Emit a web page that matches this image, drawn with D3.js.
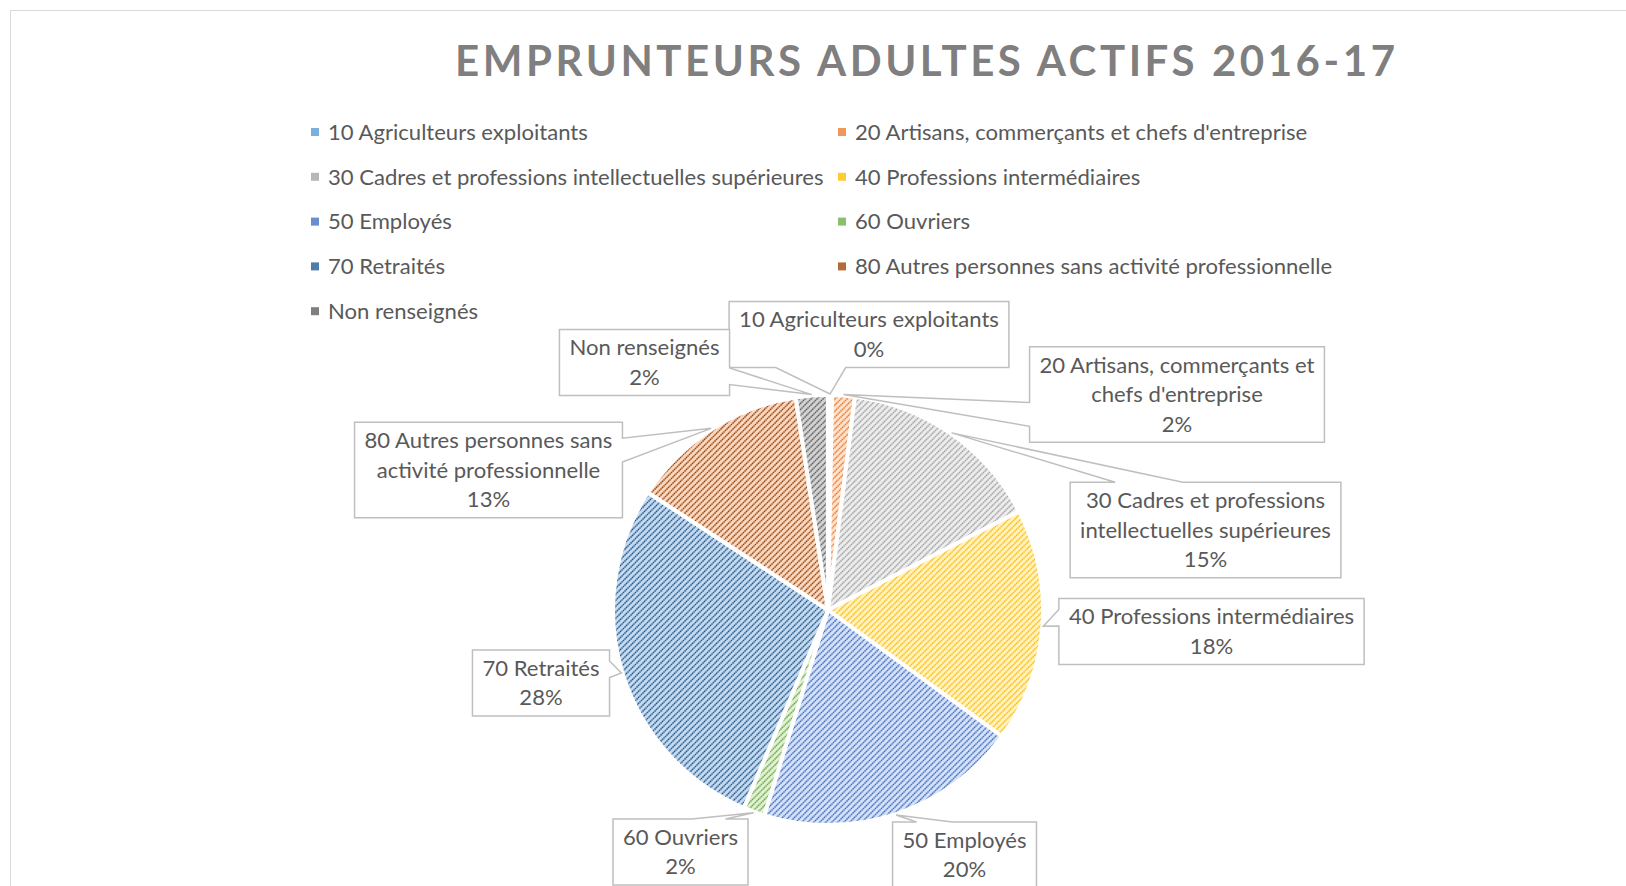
<!DOCTYPE html>
<html>
<head>
<meta charset="utf-8">
<script src="https://cdn.jsdelivr.net/npm/d3@7"></script>
<style>
  body { margin: 0; background: #fff; }
  svg { display: block; }
  text { font-family: Lato, "Open Sans", sans-serif; }
</style>
</head>
<body>
<svg></svg>
<script>

// data (percent of borrowers)
var title = 'EMPRUNTEURS ADULTES ACTIFS 2016-17'
var categories = [
  '10 Agriculteurs exploitants',
  '20 Artisans, commerçants et chefs d\'entreprise',
  '30 Cadres et professions intellectuelles supérieures',
  '40 Professions intermédiaires',
  '50 Employés',
  '60 Ouvriers',
  '70 Retraités',
  '80 Autres personnes sans activité professionnelle',
  'Non renseignés'
]
var values = [0.3, 1.7, 15.4, 17.6, 19.8, 1.6, 27.8, 13.4, 2.4]

// stripe colour and background tint of each slice
var colors = ['#5b9bd5', '#ed7d31', '#a5a5a5', '#ffc000', '#4472c4', '#70ad47', '#255e91', '#9e480e', '#636363']
var tints = ['#dcebf8', '#fbe3d2', '#ececec', '#fff1c8', '#d6e1f5', '#e0efd6', '#c6d9ee', '#f8d8c2', '#d2d2d2']

// where excel put each data label box (centre) and its wrap width
var labelLayout = [
  {x: 869, y: 334.5, wrap: 300},
  {x: 1177, y: 394.5, wrap: 290},
  {x: 1205.5, y: 530, wrap: 268},
  {x: 1211.5, y: 631.5, wrap: 320},
  {x: 964.5, y: 855, wrap: 200},
  {x: 680.5, y: 852, wrap: 200},
  {x: 541, y: 683, wrap: 200},
  {x: 488.5, y: 470, wrap: 262},
  {x: 644.5, y: 362.5, wrap: 200}
]

var width = 1626,
    height = 886
var cx = 828, cy = 610, radius = 215

var svg = d3.select('svg')
            .attr('width', width)
            .attr('height', height)

// chart area frame
svg.append('rect')
  .attr('x', 10.5).attr('y', 10.5)
  .attr('width', 1700).attr('height', 1000)
  .attr('fill', '#fff')
  .attr('stroke', '#d9d9d9')
  .attr('stroke-width', 1)

// striped fills, one per slice
var defs = svg.append('defs')
colors.forEach(function(c, i) {
  var p = defs.append('pattern')
    .attr('id', 'pat' + i)
    .attr('width', 6).attr('height', 6)
    .attr('patternUnits', 'userSpaceOnUse')
  p.append('rect').attr('width', 6).attr('height', 6).attr('fill', tints[i])
  p.append('path')
    .attr('d', 'M-1,7 L7,-1 M-3,3 L3,-3 M3,9 L9,3')
    .attr('stroke', c)
    .attr('stroke-width', 1.5)
    .attr('stroke-dasharray', '1.6,0.5')
})

// measure the label font so it is about as wide as the original
var probe = svg.append('text').style('font-size', '20px').text('10 Agriculteurs exploitants')
var fontSize = 20 * 260 / probe.node().getComputedTextLength()
probe.style('font-size', fontSize + 'px')

function textWidth(s) {
  probe.text(s)
  return probe.node().getComputedTextLength()
}

function wrap(s, maxW) {
  var words = s.split(' ')
  var lines = []
  var line = words[0]
  for (var i = 1; i < words.length; i++) {
    if (textWidth(line + ' ' + words[i]) > maxW) {
      lines.push(line)
      line = words[i]
    } else {
      line = line + ' ' + words[i]
    }
  }
  lines.push(line)
  return lines
}

// title
svg.append('text')
  .attr('x', 925)
  .attr('y', 76)
  .attr('text-anchor', 'middle')
  .attr('textLength', 940)
  .attr('lengthAdjust', 'spacing')
  .style('font-size', '42px')
  .style('font-weight', 'bold')
  .attr('fill', '#7f7f7f')
  .text(title)

// legend, two columns
var legendX = [311, 838]
var legend = svg.selectAll('g.legend')
  .data(categories)
  .enter()
  .append('g')
  .attr('class', 'legend')
  .attr('transform', (d, i) => `translate(${legendX[i % 2]}, ${132 + Math.floor(i / 2) * 44.8})`)

legend.append('rect')
  .attr('x', 0).attr('y', -4)
  .attr('width', 8).attr('height', 8)
  .attr('fill', (d, i) => d3.interpolateRgb(colors[i], tints[i])(0.25))

legend.append('text')
  .attr('x', 17)
  .attr('dy', '0.35em')
  .style('font-size', fontSize + 'px')
  .attr('fill', '#595959')
  .text(d => d)

// pie
var total = d3.sum(values)
var pie = d3.pie().sort(null).value(d => d)
var arc = d3.arc().innerRadius(0).outerRadius(radius)
var slices = pie(values)

var pieG = svg.append('g').attr('transform', `translate(${cx}, ${cy})`)
pieG.selectAll('path')
  .data(slices)
  .enter()
  .append('path')
  .attr('d', arc)
  .attr('fill', (d, i) => `url(#pat${i})`)
  .attr('stroke', '#fff')
  .attr('stroke-width', 4)
  .attr('stroke-linejoin', 'round')

// callout box with a wedge pointing at (tx, ty), same rules as excel's wedgeRectCallout
function calloutPath(x, y, w, h, tx, ty) {
  var dx = tx - (x + w / 2), dy = ty - (y + h / 2)
  var vertical = Math.abs(dy) > Math.abs(dx) * h / w
  var xa = x + w * (dx > 0 ? 7 : 2) / 12, xb = x + w * (dx > 0 ? 10 : 5) / 12
  var ya = y + h * (dy > 0 ? 7 : 2) / 12, yb = y + h * (dy > 0 ? 10 : 5) / 12
  var pts = [[x, y]]
  if (vertical && dy < 0) pts.push([xa, y], [tx, ty], [xb, y])
  pts.push([x + w, y])
  if (!vertical && dx > 0) pts.push([x + w, ya], [tx, ty], [x + w, yb])
  pts.push([x + w, y + h])
  if (vertical && dy > 0) pts.push([xb, y + h], [tx, ty], [xa, y + h])
  pts.push([x, y + h])
  if (!vertical && dx < 0) pts.push([x, yb], [tx, ty], [x, ya])
  return 'M' + pts.map(p => p.join(',')).join('L') + 'Z'
}

var lineH = 29.5
var labels = svg.append('g')
slices.forEach(function(s, i) {
  var lay = labelLayout[i]
  var lines = wrap(categories[i], lay.wrap)
  lines.push(Math.round(s.value / total * 100) + '%')
  var w = d3.max(lines, l => textWidth(l)) + 20
  var h = lines.length * lineH + 7
  var x = lay.x - w / 2, y = lay.y - h / 2
  var mid = (s.startAngle + s.endAngle) / 2
  var tx = cx + (radius + 1) * Math.sin(mid)
  var ty = cy - (radius + 1) * Math.cos(mid)

  labels.append('path')
    .attr('d', calloutPath(x, y, w, h, tx, ty))
    .attr('fill', '#fff')
    .attr('stroke', '#bfbfbf')
    .attr('stroke-width', 1.5)

  labels.selectAll(null)
    .data(lines)
    .enter()
    .append('text')
    .attr('x', lay.x)
    .attr('y', (d, j) => y + 3.5 + lineH * (j + 0.5))
    .attr('dy', '0.35em')
    .attr('text-anchor', 'middle')
    .style('font-size', fontSize + 'px')
    .attr('fill', '#595959')
    .text(d => d)
})

probe.remove()

</script>
</body>
</html>
